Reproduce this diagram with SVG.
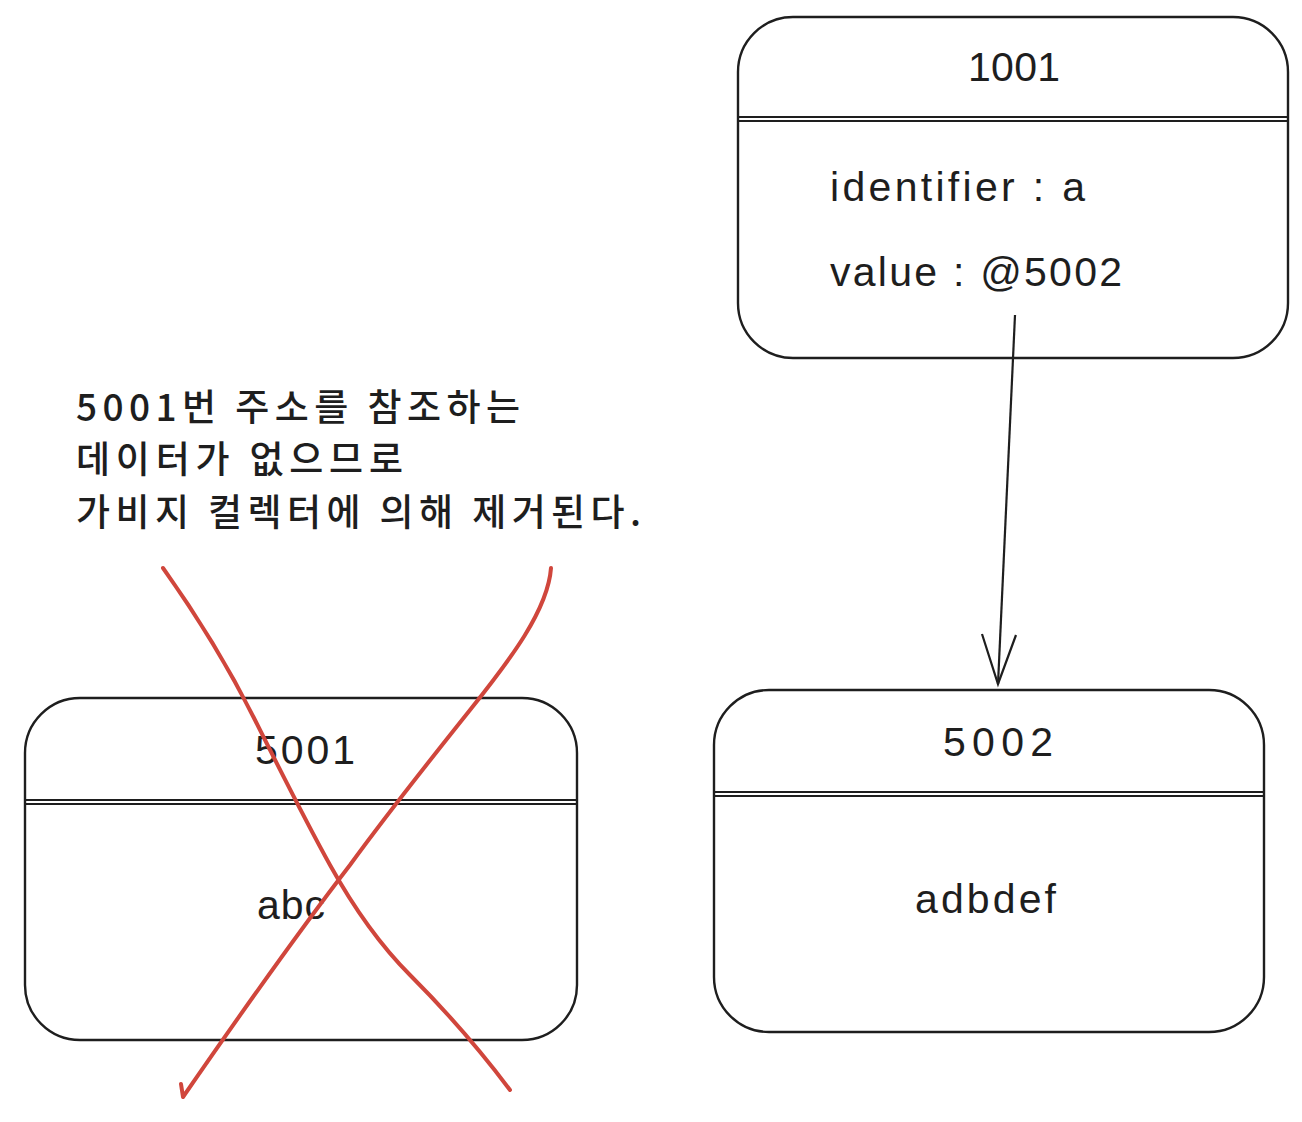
<svg xmlns="http://www.w3.org/2000/svg" width="1302" height="1122" viewBox="0 0 1302 1122">
<style>
.box{fill:none;stroke:#1e1e1e;stroke-width:2.4}
.div{stroke:#1e1e1e;stroke-width:2.2;fill:none}
.t{font-family:"Liberation Sans","Noto Sans CJK KR",sans-serif;fill:#1e1e1e;font-size:41px}
.k{font-family:"Noto Sans CJK KR","Liberation Sans",sans-serif;fill:#1e1e1e;font-size:37px;font-weight:500}
.red{fill:none;stroke:#d0463c;stroke-width:4;stroke-linecap:round;stroke-linejoin:round}
</style>
<rect width="1302" height="1122" fill="#ffffff"/>
<g id="node-1001">
<rect class="box" x="738" y="17" width="550" height="341" rx="55"/>
<line class="div" x1="737" y1="117" x2="1287" y2="117"/>
<line class="div" x1="738" y1="121" x2="1288" y2="121"/>
<text class="t" x="968" y="81" textLength="92" lengthAdjust="spacing">1001</text>
<text class="t" x="830" y="201" textLength="255" lengthAdjust="spacing">identifier : a</text>
<text class="t" x="830" y="286" textLength="292" lengthAdjust="spacing">value : @5002</text>
</g>
<g id="node-5002">
<rect class="box" x="714" y="690" width="550" height="342" rx="55"/>
<line class="div" x1="713" y1="792" x2="1263" y2="792"/>
<line class="div" x1="714" y1="796" x2="1264" y2="796"/>
<text class="t" x="943" y="756" textLength="110" lengthAdjust="spacing">5002</text>
<text class="t" x="915" y="913" textLength="141" lengthAdjust="spacing">adbdef</text>
</g>
<g id="node-5001">
<rect class="box" x="25" y="698" width="552" height="342" rx="55"/>
<line class="div" x1="24" y1="800" x2="576" y2="800"/>
<line class="div" x1="25" y1="804" x2="577" y2="804"/>
<text class="t" x="255" y="764" textLength="100" lengthAdjust="spacing">5001</text>
<text class="t" x="257" y="919" textLength="68" lengthAdjust="spacing">abc</text>
</g>
<g id="note">
<text class="k" x="76" y="421" textLength="444" lengthAdjust="spacing">5001번 주소를 참조하는</text>
<text class="k" x="76" y="473" textLength="327" lengthAdjust="spacing">데이터가 없으므로</text>
<text class="k" x="76" y="526" textLength="565" lengthAdjust="spacing">가비지 컬렉터에 의해 제거된다.</text>
</g>
<g id="connectors">
<path class="div" d="M1015 315 L998 684"/>
<path class="div" d="M982 634 L998 684 L1016 635"/>
<path class="red" d="M163 568 C200 620 230 670 255 720 C280 770 305 820 330 865 C355 910 380 945 410 975 C450 1015 480 1050 510 1090"/>
<path class="red" d="M551 568 C548 610 510 660 470 710 C430 760 390 810 350 865 C300 930 250 1000 183 1097 L181 1084"/>
</g>
</svg>
